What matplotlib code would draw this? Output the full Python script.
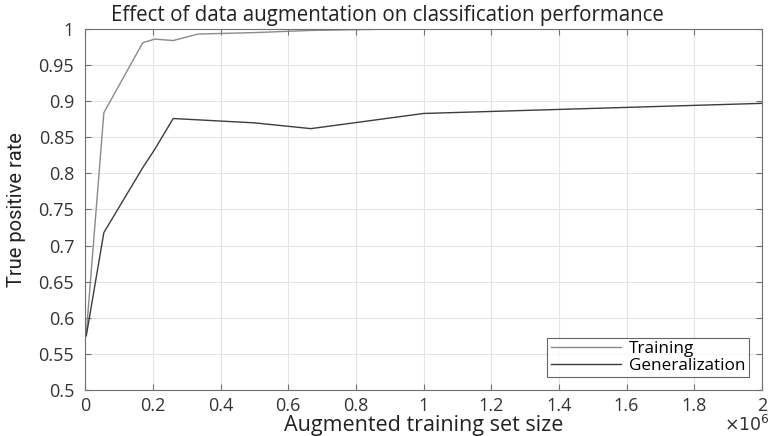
import numpy as np
import matplotlib
matplotlib.use("Agg")
import matplotlib.pyplot as plt
from matplotlib import font_manager
from matplotlib.ticker import FuncFormatter, MultipleLocator

# ── Data ─────────────────────────────────────────────────────────────────────
train_x = [3e3, 5.5e4, 1.7e5, 2.05e5, 2.6e5, 3.33e5, 5e5, 6.67e5, 9.2e5, 1.0e6, 2.0e6]
train_y = [0.578, 0.884, 0.981, 0.986, 0.984, 0.993, 0.995, 0.998, 1.0, 1.0, 1.0]

gen_x = [3e3, 5.5e4, 1.7e5, 2.05e5, 2.6e5, 5e5, 6.67e5, 1.0e6, 2.0e6]
gen_y = [0.575, 0.718, 0.808, 0.833, 0.876, 0.870, 0.862, 0.883, 0.897]

COLOR_TRAIN = "#8a8a8a"
COLOR_GEN = "#3c3c3c"
AXIS_COLOR = "#707070"

plt.rcParams.update({
    "font.family": ["Open Sans", "DejaVu Sans"],
    "font.size": 12,
})

# narrow face for the y label, if one is around
names = {f.name for f in font_manager.fontManager.ttflist}
if "Liberation Sans Narrow" in names:
    YLAB_FONT = dict(family=["Liberation Sans Narrow", "DejaVu Sans"], fontsize=14.5)
else:
    YLAB_FONT = dict(family=["Roboto", "DejaVu Sans"], fontsize=14.5)

fig = plt.figure(figsize=(7.75, 4.36), dpi=100)
ax = fig.add_axes([0.110, 0.1055, 0.873, 0.828])

ax.plot(train_x, train_y, color=COLOR_TRAIN, linewidth=1.0, label="Training")
ax.plot(gen_x, gen_y, color=COLOR_GEN, linewidth=1.0, label="Generalization")

ax.set_xlim(0, 2e6)
ax.set_ylim(0.5, 1.0)
ax.xaxis.set_major_locator(MultipleLocator(2e5))
ax.yaxis.set_major_locator(MultipleLocator(0.05))
ax.xaxis.set_major_formatter(FuncFormatter(lambda v, p: f"{v / 1e6:g}"))
ax.yaxis.set_major_formatter(FuncFormatter(lambda v, p: f"{v:g}"))

ax.grid(True, color="#e4e4e4", linewidth=0.8)
ax.set_axisbelow(True)
for side in ax.spines.values():
    side.set_color(AXIS_COLOR)
    side.set_linewidth(0.8)
ax.tick_params(direction="in", length=4, colors=AXIS_COLOR, labelcolor="#333333",
               labelsize=13, top=True, right=True)
ax.tick_params(axis="x", pad=5)
ax.tick_params(axis="y", pad=8)

# title sits centred on the figure, not the axes
fig.text(0.5, 0.965, "Effect of data augmentation on classification performance",
         ha="center", va="center", fontsize=14.8, color="#222222")
ax.set_xlabel("Augmented training set size", fontsize=15.5, color="#222222", labelpad=0)
ax.set_ylabel("True positive rate", color="#222222", labelpad=9, **YLAB_FONT)
ax.text(1.012, -0.097, r"$\times 10^{6}$", transform=ax.transAxes,
        ha="right", va="center", fontsize=12.5, color="#333333")

leg = ax.legend(loc="lower right", fontsize=12.3, frameon=True, fancybox=False,
                edgecolor="#404040", handlelength=4.1, borderpad=0.2,
                labelspacing=0.05, handletextpad=0.5, borderaxespad=0.75)
leg.get_frame().set_linewidth(0.8)

fig.savefig("out.png", dpi=100)
